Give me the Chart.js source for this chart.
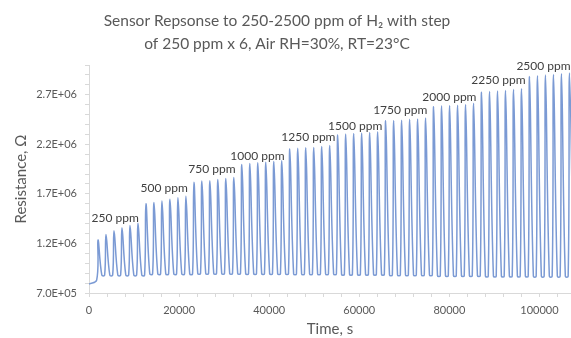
<!DOCTYPE html>
<html>
<head>
<meta charset="utf-8">
<script src="https://cdn.jsdelivr.net/npm/chart.js@4.4.1/dist/chart.umd.min.js"></script>
<style>
  html, body { margin: 0; padding: 0; background: #fff; }
  #wrap { width: 571px; height: 338px; overflow: hidden; }
</style>
</head>
<body>
<div id="wrap"><canvas id="sensorChart" width="571" height="338"></canvas></div>
<script>
// Sensor response: one peak per H2 exposure, 6 exposures per level

const titleLines = ['Sensor Repsonse to 250-2500 ppm of H\u2082 with step', 'of 250 ppm x 6, Air RH=30%, RT=23\u00B0C'];
const xTitle = 'Time, s';
const yTitle = 'Resistance, \u03A9';

// time of each peak (s)
const peakTimes = [
  2000, 3770, 5550, 7320, 9100, 10870,
  12640, 14420, 16190, 17970, 19740, 21510,
  23290, 25060, 26840, 28610, 30380, 32160,
  33930, 35710, 37480, 39250, 41030, 42800,
  44580, 46350, 48120, 49900, 51670, 53450,
  55220, 56990, 58770, 60540, 62320, 64090,
  65860, 67640, 69410, 71190, 72960, 74730,
  76510, 78280, 80060, 81830, 83600, 85380,
  87150, 88930, 90700, 92470, 94250, 96020,
  97800, 99570, 101340, 103120, 104890, 106670
];

// peak resistance (ohm)
const peakValues = [
  1234000, 1290000, 1328000, 1358000, 1382000, 1403000,
  1600000, 1612000, 1628000, 1645000, 1660000, 1675000,
  1816000, 1829000, 1832000, 1846000, 1856000, 1866000,
  1997000, 2007000, 2013000, 2020000, 2027000, 2033000,
  2152000, 2159000, 2165000, 2169000, 2179000, 2189000,
  2293000, 2303000, 2310000, 2313000, 2320000, 2326000,
  2437000, 2440000, 2443000, 2452000, 2455000, 2466000,
  2580000, 2588000, 2592000, 2594000, 2602000, 2615000,
  2725000, 2732000, 2738000, 2744000, 2752000, 2760000,
  2885000, 2892000, 2898000, 2905000, 2912000, 2920000
];

// recovered (air) resistance after each level's pulses
const levelTroughs = [880000, 893000, 897000, 895000, 892000, 888000, 882000, 875000, 870000, 868000];

// baseline before the first exposure
const baseTimes = [0, 1700];
const baseValues = [790000, 830000];

// concentration labels and where they sit (data units)
const levelNames = ['250 ppm', '500 ppm', '750 ppm', '1000 ppm', '1250 ppm', '1500 ppm', '1750 ppm', '2000 ppm', '2250 ppm', '2500 ppm'];
const levelLabelX = [5800, 16700, 27300, 37400, 48700, 59100, 69100, 80000, 90900, 100900];
const levelLabelY = [1456000, 1755000, 1950000, 2081000, 2272000, 2383000, 2545000, 2676000, 2847000, 2988000];

const xTickValues = [0, 20000, 40000, 60000, 80000, 100000];
const xTickLabels = ['0', '20000', '40000', '60000', '80000', '100000'];
const yTickValues = [700000, 1200000, 1700000, 2200000, 2700000];
const yTickLabels = ['7.0E+05', '1.2E+06', '1.7E+06', '2.2E+06', '2.7E+06'];
const xMinorStep = 4000;
const yMinorStep = 100000;

// build the trace: rise to each peak, fall back to the trough
const points = baseTimes.map((t, i) => ({ x: t, y: baseValues[i] }));
let prevTrough = baseValues[baseValues.length - 1];
peakTimes.forEach((t, i) => {
  const trough = levelTroughs[Math.floor(i / 6)];
  if (i > 0) points.push({ x: t - 300, y: prevTrough });
  points.push({ x: t, y: peakValues[i] });
  points.push({ x: t + 850, y: trough });
  prevTrough = trough;
});

const FONT = 'Lato, "Open Sans", sans-serif';
const GREY = '#595959';
const AXIS = '#d9d9d9';

// major + minor tick marks, labels only on the majors
function minorTicks(min, max, step) {
  const out = [];
  for (let v = min; v <= max + 1e-6; v += step) out.push({ value: v });
  return out;
}
function labelFor(values, labels) {
  return v => {
    const k = values.findIndex(t => Math.abs(t - v) < 1);
    return k >= 0 ? labels[k] : '';
  };
}

const titlePlugin = {
  id: 'twoLineTitle',
  afterDraw(chart) {
    const ctx = chart.ctx;
    ctx.save();
    ctx.fillStyle = GREY;
    ctx.font = '15.5px ' + FONT;
    ctx.textAlign = 'center';
    ctx.textBaseline = 'middle';
    ctx.fillText(titleLines[0], 277, 21);
    ctx.fillText(titleLines[1], 277, 44);
    ctx.restore();
  }
};

const levelLabelPlugin = {
  id: 'levelLabels',
  afterDatasetsDraw(chart) {
    const { ctx, scales: { x, y } } = chart;
    ctx.save();
    ctx.fillStyle = '#404040';
    ctx.font = '12px ' + FONT;
    ctx.textAlign = 'center';
    ctx.textBaseline = 'middle';
    levelNames.forEach((name, i) => {
      ctx.fillText(name, x.getPixelForValue(levelLabelX[i]), y.getPixelForValue(levelLabelY[i]));
    });
    ctx.restore();
  }
};

new Chart(document.getElementById('sensorChart'), {
  type: 'line',
  data: {
    datasets: [{
      data: points,
      borderColor: '#7b9ad4',
      borderWidth: 1.5,
      pointRadius: 0,
      tension: 0.4,
      fill: false
    }]
  },
  options: {
    responsive: false,
    animation: false,
    devicePixelRatio: 1,
    layout: { padding: { top: 65, right: 0, left: 0, bottom: 0 } },
    plugins: {
      legend: { display: false },
      title: { display: false },
      tooltip: { enabled: false }
    },
    scales: {
      x: {
        type: 'linear',
        min: 0,
        max: 107000,
        afterFit: s => { s.height = 45; },
        afterBuildTicks: s => { s.ticks = minorTicks(0, 104000, xMinorStep); },
        border: { display: true, color: AXIS, width: 1 },
        grid: { display: true, drawOnChartArea: false, drawTicks: true, tickLength: 4, color: AXIS },
        ticks: {
          autoSkip: false,
          maxRotation: 0,
          padding: 7,
          color: GREY,
          font: { family: FONT, size: 11 },
          callback: labelFor(xTickValues, xTickLabels)
        },
        title: { display: true, text: xTitle, color: GREY, font: { family: FONT, size: 15 }, padding: { top: 0, bottom: 0 } }
      },
      y: {
        min: 700000,
        max: 3000000,
        afterFit: s => { s.width = 89; },
        afterBuildTicks: s => { s.ticks = minorTicks(700000, 3000000, yMinorStep); },
        border: { display: true, color: AXIS, width: 1 },
        grid: { display: true, drawOnChartArea: false, drawTicks: true, tickLength: 4, color: AXIS },
        ticks: {
          autoSkip: false,
          padding: 8,
          color: GREY,
          font: { family: FONT, size: 11 },
          callback: labelFor(yTickValues, yTickLabels)
        },
        title: { display: true, text: yTitle, color: GREY, font: { family: FONT, size: 15 }, padding: { top: 12, bottom: 0 } }
      }
    }
  },
  plugins: [titlePlugin, levelLabelPlugin]
});
</script>
</body>
</html>
